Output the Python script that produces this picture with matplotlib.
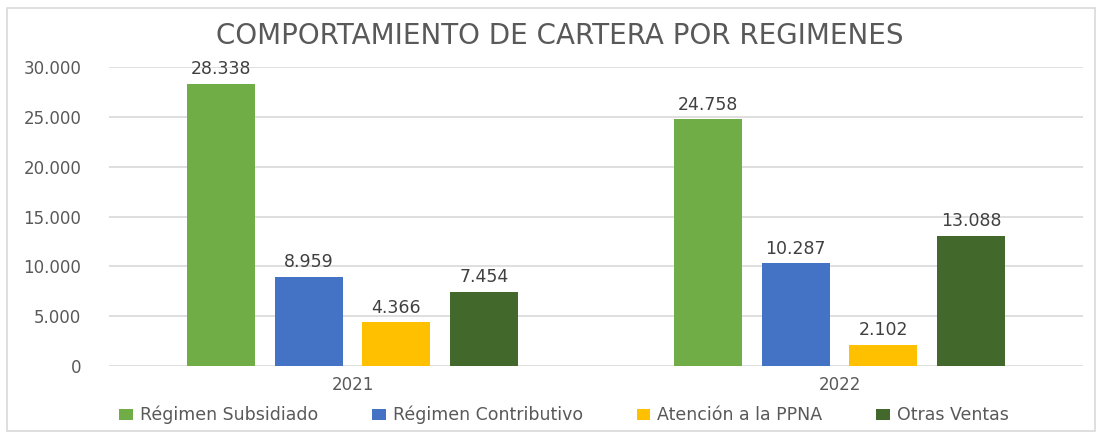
import matplotlib.pyplot as plt
from matplotlib.patches import Rectangle
import numpy as np

# datos
anios = ['2021', '2022']
series = ['Régimen Subsidiado', 'Régimen Contributivo', 'Atención a la PPNA', 'Otras Ventas']
subsidiado = [28338, 24758]
contributivo = [8959, 10287]
ppna = [4366, 2102]
otras = [7454, 13088]
valores = [subsidiado, contributivo, ppna, otras]
colores = ['#70AD47', '#4472C4', '#FFC000', '#43682B']
yticks = [0, 5000, 10000, 15000, 20000, 25000, 30000]

plt.rcParams['font.family'] = ['DejaVu Sans']

fig = plt.figure(figsize=(10.99, 4.34), dpi=100)
ax = fig.add_axes([109/1099, (434-366)/434, (1083-109)/1099, (366-67)/434])

# marco del grafico
fig.patches.append(Rectangle((7/1099, 3/434), 1088/1099, 423/434, transform=fig.transFigure,
                             fill=False, edgecolor='#d9d9d9', linewidth=1.2))

x = np.arange(len(anios))
ancho = 0.14
paso = 0.18
for i, (nombre, vals, col) in enumerate(zip(series, valores, colores)):
    pos = x + (i - 1.5) * paso
    barras = ax.bar(pos, vals, width=ancho, color=col, label=nombre, zorder=3)
    for b, v in zip(barras, vals):
        txt = f'{v:,}'.replace(',', '.')
        ax.annotate(txt, (b.get_x() + b.get_width()/2, v), xytext=(0, 4),
                    textcoords='offset points', ha='center', va='bottom',
                    fontsize=12.5, color='#404040')

ax.set_xlim(-0.5, 1.5)
ax.set_ylim(0, 30000)
ax.set_yticks(yticks)
ax.set_yticklabels([f'{t:,}'.replace(',', '.') for t in yticks])
ax.set_xticks(x)
ax.set_xticklabels(anios)
ax.tick_params(axis='both', length=0, labelsize=12, labelcolor='#595959')
ax.tick_params(axis='y', pad=20)
ax.tick_params(axis='x', pad=7)
ax.grid(axis='y', color='#d9d9d9', linewidth=1.2, zorder=0)
for s in ax.spines.values():
    s.set_visible(False)

fig.text(560/1099, 1 - 35.5/434, 'COMPORTAMIENTO DE CARTERA POR REGIMENES', ha='center', va='center',
         fontsize=20, color='#595959')

ax.legend(loc='center', bbox_to_anchor=(564/1099, 1 - 415/434), bbox_transform=fig.transFigure,
          ncol=4, frameon=False, fontsize=12.5, labelcolor='#595959',
          handlelength=0.8, handleheight=0.6, handletextpad=0.4, columnspacing=3.1)

fig.savefig('out.png', dpi=100)
